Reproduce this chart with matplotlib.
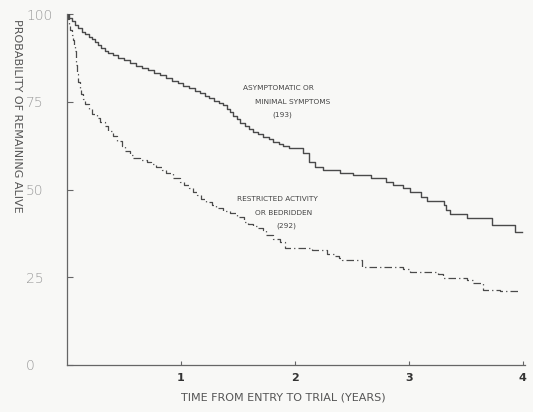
import matplotlib
matplotlib.use("Agg")
import matplotlib.pyplot as plt

# curva 1: asintomaticos (193)  -- (tiempo en anos, % vivos), escalones
t_asin = [0.00, 0.02, 0.04, 0.07, 0.10, 0.13, 0.16, 0.19, 0.22, 0.25, 0.27, 0.30,
          0.33, 0.36, 0.40, 0.45, 0.50, 0.55, 0.61, 0.66, 0.71, 0.76, 0.82, 0.87,
          0.92, 0.97, 1.02, 1.07, 1.12, 1.17, 1.21, 1.25, 1.29, 1.33, 1.37, 1.40,
          1.43, 1.46, 1.49, 1.52, 1.56, 1.60, 1.63, 1.68, 1.72, 1.77, 1.81, 1.86,
          1.90, 1.95, 2.07, 2.12, 2.18, 2.25, 2.40, 2.51, 2.67, 2.80, 2.86, 2.95,
          3.01, 3.11, 3.16, 3.31, 3.33, 3.36, 3.51, 3.73, 3.93, 3.99]
v_asin = [100, 99, 98, 97, 96, 95, 94.3, 93.5, 93, 92, 91.2, 90.4,
          89.6, 88.9, 88.2, 87.5, 86.8, 86.0, 85.2, 84.5, 84, 83.3, 82.6, 81.8,
          81, 80.2, 79.6, 78.8, 78.1, 77.4, 76.6, 76, 75.3, 74.6, 74, 73,
          72, 71, 70, 69, 68, 67.2, 66.5, 65.8, 65, 64.3, 63.6, 63,
          62.4, 61.7, 60.3, 57.9, 56.5, 55.6, 54.6, 54.1, 53.2, 52.2, 51.3, 50.3,
          49.4, 48.0, 46.7, 45.6, 44.2, 43.0, 41.8, 39.9, 38.0, 38.0]

# curva 2: actividad restringida o en cama (292)
t_restr = [0.00, 0.01, 0.02, 0.03, 0.04, 0.05, 0.06, 0.07, 0.075, 0.08, 0.09, 0.10,
           0.11, 0.12, 0.14, 0.16, 0.19, 0.22, 0.26, 0.29, 0.33, 0.36, 0.40, 0.44,
           0.48, 0.51, 0.55, 0.58, 0.64, 0.70, 0.74, 0.78, 0.83, 0.87, 0.93, 0.99,
           1.03, 1.07, 1.11, 1.14, 1.18, 1.22, 1.27, 1.31, 1.37, 1.43, 1.49, 1.55,
           1.59, 1.63, 1.68, 1.72, 1.75, 1.81, 1.87, 1.91, 2.15, 2.28, 2.34, 2.39,
           2.41, 2.59, 2.95, 3.01, 3.26, 3.30, 3.51, 3.56, 3.65, 3.80, 3.98]
v_restr = [100, 98.5, 97, 95.5, 94, 92.5, 91, 89.5, 87.5, 85.5, 83, 80.5,
           78.5, 77.2, 75.8, 74.5, 73, 71.6, 70.3, 69.3, 68, 66.7, 65.2, 63.8,
           62.3, 61, 59.8, 58.9, 58.4, 57.9, 57.2, 56.5, 55.5, 54.6, 53.4, 52.2,
           51.2, 50.3, 49.3, 48.4, 47.4, 46.5, 45.5, 44.6, 43.9, 43.2, 42.2, 40.8,
           40.2, 39.6, 39, 38.5, 37, 36, 35.1, 33.4, 32.8, 31.5, 31, 30.4,
           29.9, 28, 27.3, 26.4, 25.8, 24.7, 24.2, 23.5, 21.4, 21.0, 21.0]

y_ticks = [0, 25, 50, 75, 100]
x_ticks = [1, 2, 3, 4]

fondo = "#f8f8f6"
linea = "#4a4a4a"

fig = plt.figure(figsize=(5.33, 4.12), dpi=100, facecolor=fondo)
ax = fig.add_axes([67/533, 47/412, 458/533, 351/412], facecolor=fondo)

ax.plot(t_asin, v_asin, drawstyle="steps-post", color=linea, lw=1.0)
ax.plot(t_restr, v_restr, drawstyle="steps-post", color=linea, lw=0.9,
        linestyle=(0, (6, 2.5, 1, 2.5)))

ax.set_xlim(0, 4.02)
ax.set_ylim(0, 100)
for lado in ["top", "right"]:
    ax.spines[lado].set_visible(False)
for lado in ["left", "bottom"]:
    ax.spines[lado].set_color("#666666")
    ax.spines[lado].set_linewidth(0.9)

ax.set_yticks(y_ticks)
ax.set_yticklabels([str(v) for v in y_ticks])
ax.tick_params(axis="y", direction="in", length=4, color="#666666",
               labelsize=10, labelcolor="#999999", pad=29.5)
for lab in ax.get_yticklabels():
    lab.set_horizontalalignment("left")
    lab.set_fontweight("light")

ax.set_xticks(x_ticks)
ax.set_xticklabels([str(v) for v in x_ticks], fontweight="bold")
ax.tick_params(axis="x", direction="in", length=3, color="#666666",
               labelsize=8, labelcolor="#333333", pad=6)

fig.text(283/533, 1 - 398/412, "TIME FROM ENTRY TO TRIAL (YEARS)", ha="center",
         va="center", fontsize=8, color="#555555")
fig.text(17/533, 1 - 116/412, "PROBABILITY OF REMAINING ALIVE", ha="center",
         va="center", fontsize=8, color="#555555", rotation=270)

kw = dict(ha="center", va="center", fontsize=5.3, color="#444444")
fig.text(278/533, 1 - 88/412, "ASYMPTOMATIC OR", **kw)
fig.text(293/533, 1 - 102/412, "MINIMAL SYMPTOMS", **kw)
fig.text(282/533, 1 - 115/412, "(193)", **kw)
fig.text(277/533, 1 - 199/412, "RESTRICTED ACTIVITY", **kw)
fig.text(284/533, 1 - 213/412, "OR BEDRIDDEN", **kw)
fig.text(286/533, 1 - 226/412, "(292)", **kw)

fig.savefig("out.png", dpi=100, facecolor=fondo)
